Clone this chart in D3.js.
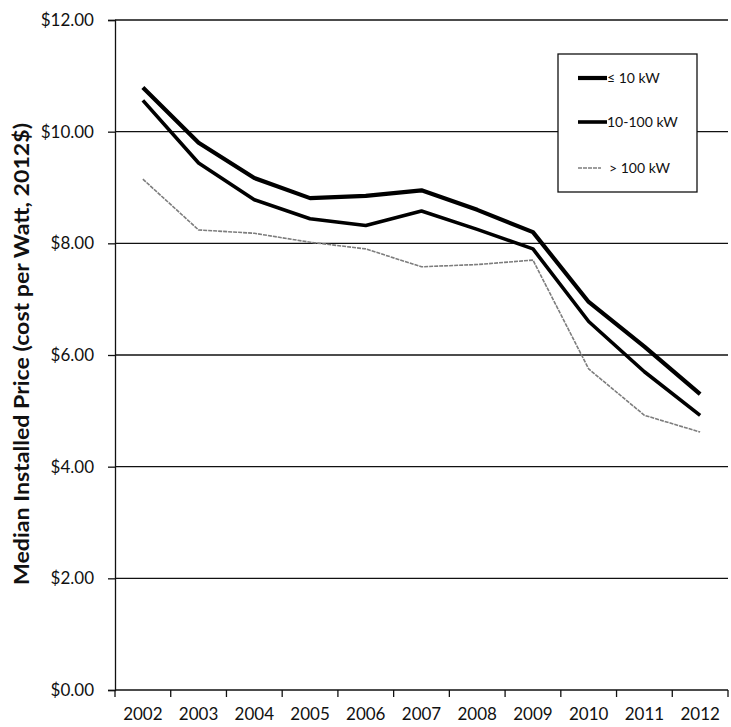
<!DOCTYPE html>
<html>
<head>
<meta charset="utf-8">
<script src="https://cdn.jsdelivr.net/npm/d3@7"></script>
<style>
  html, body { margin: 0; padding: 0; background: #fff; }
  svg { display: block; }
  text { font-family: Lato, "Open Sans", sans-serif; fill: #111; }
</style>
</head>
<body>
<svg id="chart" width="731" height="727"></svg>
<script>
// Median installed price by system size, 2002-2012 (2012$ per watt)
const years = ["2002", "2003", "2004", "2005", "2006", "2007", "2008", "2009", "2010", "2011", "2012"];
const small  = [10.79, 9.80, 9.17, 8.81, 8.85, 8.95, 8.60, 8.20, 6.95, 6.15, 5.30];   // ≤ 10 kW
const medium = [10.56, 9.44, 8.78, 8.44, 8.32, 8.58, 8.25, 7.90, 6.60, 5.70, 4.92];   // 10-100 kW
const large  = [9.15, 8.24, 8.18, 8.02, 7.90, 7.58, 7.62, 7.70, 5.75, 4.92, 4.62];    // > 100 kW
const yTicks = [0, 2, 4, 6, 8, 10, 12];
const seriesNames = ["\u2264 10 kW", "10-100 kW", "> 100 kW"];

const svg = d3.select("#chart");
const margin = { left: 115, right: 3, top: 20, bottom: 37 };
const W = 731, H = 727;

const x = d3.scaleBand().domain(years).range([margin.left, W - margin.right]);
const y = d3.scaleLinear().domain([0, 12]).range([H - margin.bottom, margin.top]);

// Horizontal gridlines
svg.append("g")
  .selectAll("line")
  .data(yTicks.filter(d => d > 0))
  .join("line")
  .attr("x1", margin.left).attr("x2", W - margin.right)
  .attr("y1", d => y(d)).attr("y2", d => y(d))
  .attr("stroke", "#111").attr("stroke-width", 1.3);

// Y axis
const yAxis = svg.append("g")
  .attr("transform", `translate(${margin.left},0)`)
  .call(d3.axisLeft(y).tickValues(yTicks).tickFormat(d => "$" + d3.format(".2f")(d)).tickSize(7).tickPadding(14));
yAxis.selectAll("text").attr("font-size", 17).attr("font-family", "Lato, sans-serif");
yAxis.selectAll("line, path").attr("stroke", "#111").attr("stroke-width", 1.3);

// X axis: ticks at band boundaries, labels centred in bands
const xAxisG = svg.append("g")
  .attr("transform", `translate(0,${y(0)})`);
xAxisG.append("line")
  .attr("x1", margin.left).attr("x2", W - margin.right)
  .attr("stroke", "#111").attr("stroke-width", 1.5);
const boundaries = years.map(d => x(d)).concat([x(years[years.length - 1]) + x.bandwidth()]);
xAxisG.selectAll("line.tick")
  .data(boundaries)
  .join("line").attr("class", "tick")
  .attr("x1", d => d).attr("x2", d => d)
  .attr("y1", 0).attr("y2", 7)
  .attr("stroke", "#111").attr("stroke-width", 1.3);
xAxisG.selectAll("text")
  .data(years)
  .join("text")
  .attr("x", d => x(d) + x.bandwidth() / 2)
  .attr("y", 30)
  .attr("text-anchor", "middle")
  .attr("font-size", 17)
  .text(d => d);

// Y axis title
svg.append("text")
  .attr("transform", `translate(29,354) rotate(-90)`)
  .attr("text-anchor", "middle")
  .attr("font-size", 21)
  .attr("font-weight", "bold")
  .attr("textLength", 462)
  .attr("lengthAdjust", "spacingAndGlyphs")
  .text("Median Installed Price (cost per Watt, 2012$)");

// Lines
const line = d3.line()
  .x((d, i) => x(years[i]) + x.bandwidth() / 2)
  .y(d => y(d));

const styles = [
  { data: small,  stroke: "#000", width: 4.2, dash: null },
  { data: medium, stroke: "#000", width: 3.6, dash: null },
  { data: large,  stroke: "#7d7d7d", width: 1.6, dash: "4,1" }
];

svg.append("g")
  .selectAll("path")
  .data(styles)
  .join("path")
  .attr("d", s => line(s.data))
  .attr("fill", "none")
  .attr("stroke", s => s.stroke)
  .attr("stroke-width", s => s.width)
  .attr("stroke-dasharray", s => s.dash)
  .attr("stroke-linejoin", "round");

// Legend
const legend = svg.append("g");
legend.append("rect")
  .attr("x", 558).attr("y", 54).attr("width", 139).attr("height", 138)
  .attr("fill", "#fff").attr("stroke", "#111").attr("stroke-width", 1.3);
const legendY = [78, 122, 168];
styles.forEach((s, i) => {
  legend.append("line")
    .attr("x1", 578).attr("x2", i === 2 ? 601 : 607)
    .attr("y1", legendY[i]).attr("y2", legendY[i])
    .attr("stroke", s.stroke).attr("stroke-width", s.width)
    .attr("stroke-dasharray", s.dash);
  legend.append("text")
    .attr("x", i === 2 ? 609 : 607).attr("y", legendY[i])
    .attr("dy", "0.35em")
    .attr("font-size", 14)
    .text(seriesNames[i]);
});
</script>
</body>
</html>
